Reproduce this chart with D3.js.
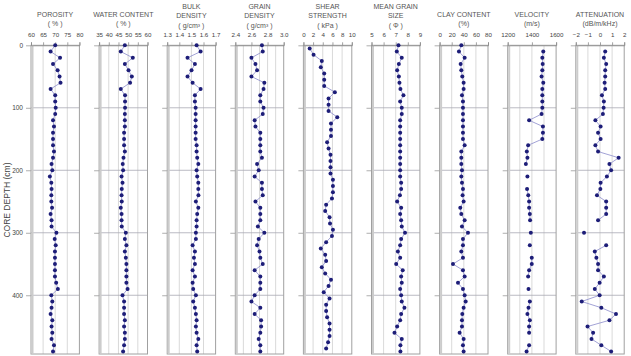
<!DOCTYPE html>
<html>
<head>
<meta charset="utf-8">
<script src="https://cdn.jsdelivr.net/npm/d3@7"></script>
<style>
body { margin: 0; background: #fff; }
svg { display: block; font-family: "Liberation Sans", Arial, sans-serif; }
</style>
</head>
<body>
<svg id="drawing_region"></svg>
<script>
// sample depths (cm)
const depth = [0,10,20,30,40,50,60,70,80,90,100,110,120,130,140,150,160,170,180,190,
    200,210,220,230,240,250,260,270,280,290,300,310,320,330,340,350,360,370,380,390,
    400,410,420,430,440,450,460,470,480,490];
const shearDepth = [5,15,25,35,45,55,65,75,85,95,105,115,125,135,145,155,165,175,185,195,
    205,215,225,235,245,255,265,275,285,295,305,315,325,335,345,355,365,375,385,395,
    405,415,425,435,445,455,465,475,485];

const porosity = [70.0,68.1,72.0,69.1,71.0,71.8,72.2,68.1,70.0,70.0,
    70.2,70.0,69.1,69.5,69.1,69.1,69.1,69.5,69.1,68.5,
    68.8,67.8,68.4,68.5,68.4,68.4,68.7,68.1,68.5,68.5,
    70.5,69.8,70.2,69.9,69.9,69.9,69.9,69.9,70.4,71.1,
    68.4,68.8,68.5,68.1,68.8,68.5,68.8,68.5,69.5,69.1];
const waterContent = [48.3,46.2,52.4,48.3,50.2,51.9,51.0,46.2,48.4,48.4,
    48.4,48.3,48.3,48.3,47.9,47.9,47.9,48.3,47.6,47.2,
    47.4,46.6,47.1,46.7,46.6,46.7,46.2,46.6,46.6,46.7,
    48.8,48.3,49.1,48.3,48.8,49.1,49.1,49.1,49.1,49.7,
    47.1,47.9,47.9,47.9,48.3,47.9,48.3,48.3,47.9,47.4];
const bulkDensity = [1.543,1.576,1.468,1.529,1.501,1.468,1.510,1.576,1.529,1.529,
    1.535,1.535,1.535,1.535,1.535,1.535,1.543,1.543,1.548,1.557,
    1.543,1.548,1.557,1.557,1.558,1.537,1.557,1.548,1.543,1.543,
    1.537,1.537,1.510,1.529,1.521,1.529,1.510,1.529,1.510,1.515,
    1.537,1.515,1.529,1.537,1.543,1.537,1.543,1.557,1.543,1.548];
const grainDensity = [2.73,2.74,2.60,2.65,2.67,2.60,2.76,2.75,2.71,2.71,
    2.75,2.74,2.64,2.65,2.71,2.71,2.71,2.71,2.73,2.67,
    2.69,2.64,2.73,2.73,2.74,2.65,2.71,2.71,2.71,2.68,
    2.76,2.69,2.67,2.70,2.71,2.74,2.64,2.71,2.71,2.71,
    2.64,2.60,2.71,2.64,2.72,2.72,2.71,2.69,2.71,2.71];
const shearStrength = [1.3,2.1,3.8,3.6,4.3,4.3,4.3,6.5,5.2,5.2,
    5.2,7.0,5.7,5.7,5.7,4.9,5.2,5.6,5.6,5.6,
    5.6,6.1,6.1,6.1,5.9,4.7,4.5,5.4,5.5,6.1,
    5.9,4.7,3.6,4.5,4.7,3.8,4.5,5.7,5.2,4.2,
    5.4,4.7,4.7,4.9,5.4,5.4,5.4,5.1,4.7];
const grainSize = [7.23,7.09,7.50,7.26,7.12,7.26,7.31,7.39,7.64,7.37,
    7.50,7.50,7.37,7.37,7.37,7.37,7.37,7.37,7.37,7.37,
    7.37,7.37,7.45,7.45,7.35,7.12,7.45,7.37,7.45,7.50,
    7.77,7.45,7.37,7.18,7.37,7.04,7.58,7.45,7.50,7.37,
    7.45,7.50,7.72,7.45,7.37,7.12,6.90,7.50,7.39,7.39];
const clayContent = [35.9,32.0,41.4,34.8,35.9,37.5,39.7,39.7,37.0,38.6,
    38.6,38.6,38.6,38.6,38.6,38.6,41.4,35.9,35.9,35.9,
    37.0,35.9,37.0,38.6,38.0,39.7,34.2,35.9,41.4,37.0,
    46.9,38.6,38.6,35.9,38.6,22.1,38.6,41.4,30.4,38.6,
    41.4,43.1,39.7,37.5,37.0,37.0,33.1,39.7,38.6,39.7];
const velocity = [null,1494,1486,1489,1486,1480,1494,1486,1486,1486,
    1486,1480,1377,1491,1491,1486,1369,1358,1363,1350,
    null,1363,null,1360,1370,1377,1377,1383,1385,null,
    1391,null,1383,null,1399,1399,1377,1369,null,1372,
    null,1383,1372,1363,1383,1377,1377,null,1377,1356];
const attenuation = [null,0.43,0.32,0.51,0.43,0.43,0.38,0.43,0.16,0.32,
    0.30,0.24,-0.38,0.05,-0.16,0.05,-0.38,-0.16,1.54,0.78,
    0.92,0.57,0.05,0.03,-0.25,0.51,0.51,0.51,-0.16,null,
    -1.32,null,0.51,-0.43,-0.30,-0.16,-0.16,0.32,-0.03,-0.43,
    -0.03,-1.51,0.11,1.32,0.78,-1.03,-0.57,-0.70,0.11,0.92];

const depthTicks = [0,100,200,300,400];

// panel definitions: titles, axis domain, labelled ticks, grid lines
const panels = [
    { title: ['POROSITY', '( % )'], domain: [60,80], ticks: [60,65,70,75,80], grid: [65,70,75], depths: depth, values: porosity, fmt: d3.format('d') },
    { title: ['WATER CONTENT', '( % )'], domain: [35,60], ticks: [35,40,45,50,55,60], grid: [40,45,50,55], depths: depth, values: waterContent, fmt: d3.format('d') },
    { title: ['BULK', 'DENSITY', '( g/cm\u00b3 )'], domain: [1.3,1.7], ticks: [1.3,1.4,1.5,1.6,1.7], grid: [1.4,1.5,1.6], depths: depth, values: bulkDensity, fmt: d3.format('.1f') },
    { title: ['GRAIN', 'DENSITY', '( g/cm\u00b3 )'], domain: [2.4,3.0], ticks: [2.4,2.6,2.8,3.0], grid: [2.5,2.6,2.7,2.8,2.9], depths: depth, values: grainDensity, fmt: d3.format('.1f') },
    { title: ['SHEAR', 'STRENGTH', '( kPa )'], domain: [0,10], ticks: [0,2,4,6,8,10], grid: [2,4,6,8], depths: shearDepth, values: shearStrength, fmt: d3.format('d') },
    { title: ['MEAN GRAIN', 'SIZE', '( \u03a6 )'], domain: [5,9], ticks: [5,6,7,8,9], grid: [6,7,8], depths: depth, values: grainSize, fmt: d3.format('d') },
    { title: ['CLAY CONTENT', '(%)'], domain: [0,80], ticks: [0,20,40,60,80], grid: [20,40,60], depths: depth, values: clayContent, fmt: d3.format('d') },
    { title: ['VELOCITY', '(m/s)'], domain: [1200,1600], ticks: [1200,1400,1600], grid: [1300,1400,1500], depths: depth, values: velocity, fmt: d3.format('d') },
    { title: ['ATTENUATION', '(dB/m/kHz)'], domain: [-2,2], ticks: [-2,-1,0,1,2], grid: [-1,0,1], depths: depth, values: attenuation, fmt: d3.format('d') }
];

const svg = d3.select('#drawing_region')
    .attr('width', 631)
    .attr('height', 356);

const yscale = d3.scaleLinear()
    .domain([0, 494])
    .range([45.3, 354]);

class DepthPanel {

    constructor( config, index ) {
        this.config = config;
        this.index = index;
        this.left = 31 + index * 68.1;
        this.width = 48.4;
        this.init();
    }

    init() {
        let self = this;
        const top = yscale.range()[0], bottom = yscale.range()[1];

        self.g = svg.append('g')
            .attr('transform', `translate(${self.left}, 0)`);

        self.xscale = d3.scaleLinear()
            .domain(self.config.domain)
            .range([0, self.width]);

        // vertical grid
        self.g.selectAll('.vgrid').data(self.config.grid)
            .join('line')
            .attr('x1', d => self.xscale(d))
            .attr('x2', d => self.xscale(d))
            .attr('y1', top)
            .attr('y2', bottom)
            .attr('stroke', '#cfcfcf')
            .attr('stroke-width', 0.8);

        // depth axis with grid lines
        const yaxis = d3.axisLeft(yscale)
            .tickValues(depthTicks)
            .tickSize(5)
            .tickFormat(self.index === 0 ? d3.format('d') : '');
        const yg = self.g.append('g').call(yaxis);
        yg.select('.domain').remove();
        yg.selectAll('line').attr('stroke', '#9a9a9a').attr('stroke-width', 0.8);
        yg.selectAll('text')
            .attr('fill', '#444')
            .style('font-size', '6.5px')
            .attr('x', -8);

        self.g.selectAll('.hgrid').data(depthTicks.slice(1))
            .join('line')
            .attr('x1', 0)
            .attr('x2', self.width)
            .attr('y1', d => yscale(d))
            .attr('y2', d => yscale(d))
            .attr('stroke', '#a8a8b4')
            .attr('stroke-width', 0.8);

        // frame
        self.g.append('rect')
            .attr('x', 0).attr('y', top)
            .attr('width', self.width).attr('height', bottom - top)
            .attr('fill', 'none')
            .attr('stroke', '#a0a0a0')
            .attr('stroke-width', 1);
        self.g.append('line')
            .attr('x1', 1.5).attr('x2', 1.5)
            .attr('y1', top).attr('y2', bottom)
            .attr('stroke', '#cccccc')
            .attr('stroke-width', 2);

        // top axis
        const xaxis = d3.axisTop(self.xscale)
            .tickValues(self.config.ticks)
            .tickSize(3)
            .tickPadding(5)
            .tickFormat(self.config.fmt);
        const xg = self.g.append('g')
            .attr('transform', `translate(0, ${top})`)
            .call(xaxis);
        xg.select('.domain').attr('stroke', '#8a8a8a').attr('stroke-width', 0.8);
        xg.selectAll('line').attr('stroke', '#8a8a8a').attr('stroke-width', 0.8);
        xg.selectAll('text')
            .attr('fill', '#444')
            .style('font-size', '6.2px');

        // title
        const lines = self.config.title;
        const y0 = lines.length === 3 ? 8.5 : 16.5;
        self.g.selectAll('.title').data(lines)
            .join('text')
            .attr('x', self.width / 2)
            .attr('y', (d, i) => y0 + i * 9.5)
            .attr('text-anchor', 'middle')
            .attr('fill', '#555')
            .style('font-size', '7px')
            .text(d => d);
    }

    render() {
        let self = this;
        const pts = self.config.depths.map((d, i) => ({ depth: d, value: self.config.values[i] }));

        const line = d3.line()
            .defined(d => d.value != null)
            .x(d => self.xscale(d.value))
            .y(d => yscale(d.depth));

        self.g.append('path')
            .datum(pts)
            .attr('d', line)
            .attr('fill', 'none')
            .attr('stroke', '#8c8ccc')
            .attr('stroke-width', 0.8);

        self.g.selectAll('circle').data(pts.filter(d => d.value != null))
            .join('circle')
            .attr('cx', d => self.xscale(d.value))
            .attr('cy', d => yscale(d.depth))
            .attr('r', 2)
            .attr('fill', '#1d1d78');
    }
}

panels.forEach((p, i) => {
    const panel = new DepthPanel(p, i);
    panel.render();
});

svg.append('text')
    .attr('transform', 'translate(10, 200) rotate(-90)')
    .attr('text-anchor', 'middle')
    .attr('fill', '#444')
    .style('font-size', '8.5px')
    .text('CORE DEPTH (cm)');
</script>
</body>
</html>
